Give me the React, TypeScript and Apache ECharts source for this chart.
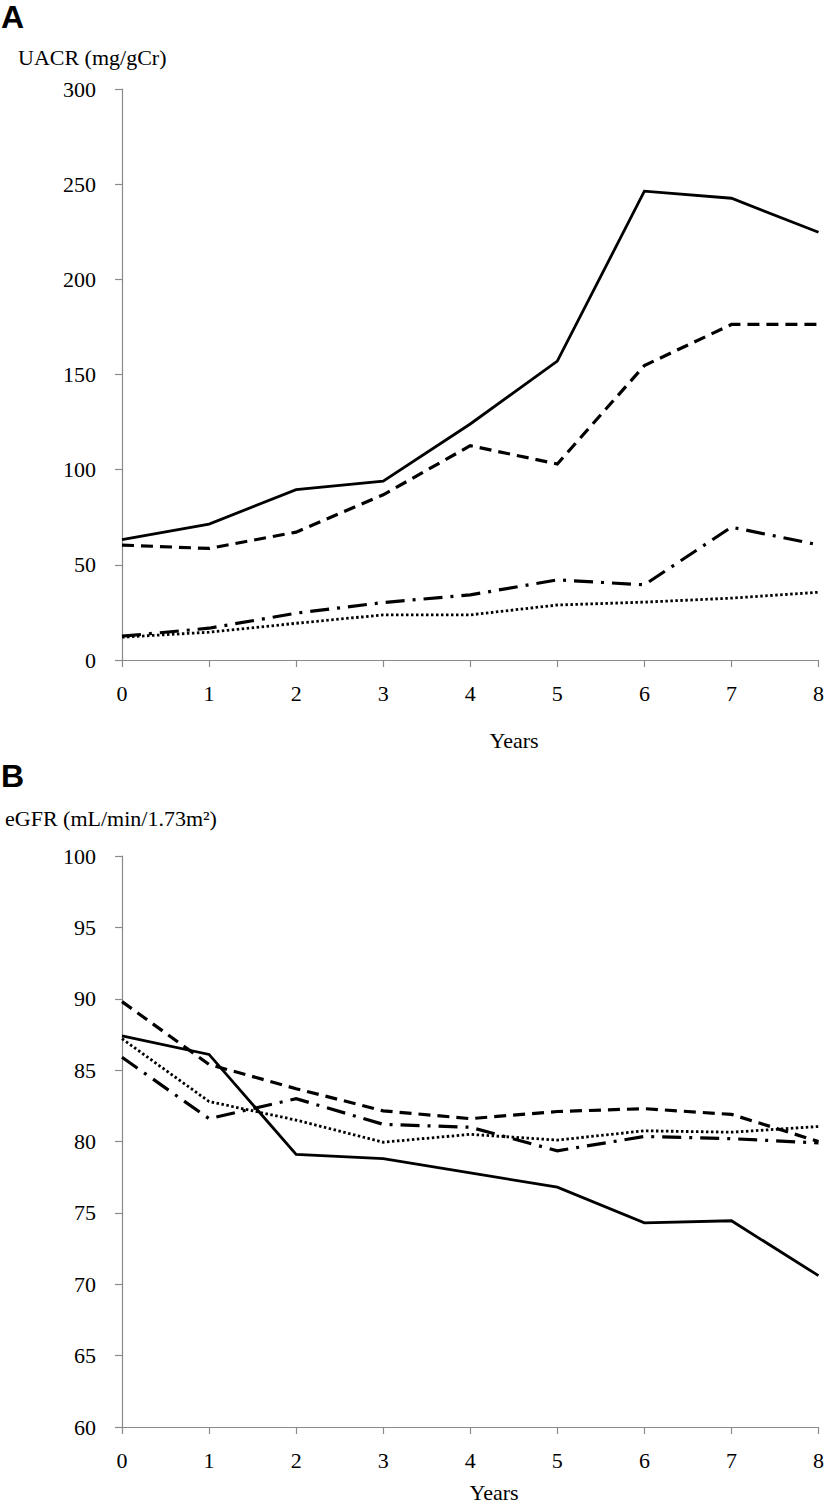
import React, { useEffect, useRef } from "react";
import * as echarts from "echarts";

const years = [0, 1, 2, 3, 4, 5, 6, 7, 8];

// Panel A: UACR (mg/gCr)
const uacrSolid = [63.2, 71.4, 89.5, 94, 124, 157, 246.3, 242.6, 224.7];
const uacrDashed = [60.4, 58.6, 67.2, 86.8, 112.6, 103, 154.7, 176.3, 176.3];
const uacrDashDot = [12.5, 16.7, 24.6, 30.2, 34.2, 42.1, 39.5, 69.8, 60.5];
const uacrDotted = [12, 14.6, 19.3, 23.7, 23.7, 28.9, 30.4, 32.5, 35.6];

// Panel B: eGFR (mL/min/1.73m²)
const egfrSolid = [87.4, 86.1, 79.1, 78.8, 77.8, 76.8, 74.3, 74.45, 70.6];
const egfrDashed = [89.8, 85.4, 83.7, 82.15, 81.6, 82.1, 82.3, 81.9, 80.0];
const egfrDashDot = [85.9, 81.6, 83.0, 81.2, 81.0, 79.35, 80.35, 80.2, 79.9];
const egfrDotted = [87.2, 82.8, 81.5, 79.95, 80.5, 80.1, 80.75, 80.65, 81.05];

const uacrTicks = { min: 0, max: 300, interval: 50 };
const egfrTicks = { min: 60, max: 100, interval: 5 };

const SERIF = "'Liberation Serif', 'Times New Roman', serif";
const SANS = "'Liberation Sans', Arial, sans-serif";
const AXIS_COLOR = "#8a8a8a";

const pairs = (vals: number[]) => years.map((x, i) => [x, vals[i]]);

const styles = [
  { width: 2.8, type: "solid" as any },
  { width: 3.2, type: [12, 7] as any },
  { width: 3.2, type: [19, 8, 3, 8] as any },
  { width: 2.8, type: [2.5, 2.5] as any },
];

export default function App() {
  const ref = useRef<HTMLDivElement>(null);
  useEffect(() => {
    if (!ref.current) return;
    const chart = echarts.init(ref.current, undefined, { renderer: "svg" });

    const xAxisBase = (gridIndex: number) => ({
      type: "value",
      gridIndex,
      min: 0,
      max: 8,
      interval: 1,
      axisLine: { show: true, lineStyle: { color: AXIS_COLOR, width: 1.2 } },
      axisTick: { show: true, length: 7, inside: false, lineStyle: { color: AXIS_COLOR, width: 1.2 } },
      axisLabel: { color: "#000", fontFamily: SERIF, fontSize: 22, margin: 22 },
      splitLine: { show: false },
    });
    const yAxisBase = (gridIndex: number, t: any) => ({
      type: "value",
      gridIndex,
      min: t.min,
      max: t.max,
      interval: t.interval,
      axisLine: { show: true, lineStyle: { color: AXIS_COLOR, width: 1.2 } },
      axisTick: { show: true, length: 7, inside: false, lineStyle: { color: AXIS_COLOR, width: 1.2 } },
      axisLabel: { color: "#000", fontFamily: SERIF, fontSize: 22, margin: 26 },
      splitLine: { show: false },
    });

    const mk = (vals: number[], idx: number, k: number) => ({
      type: "line",
      xAxisIndex: idx,
      yAxisIndex: idx,
      data: pairs(vals),
      symbol: "none",
      silent: true,
      lineStyle: { color: "#000", width: styles[k].width, type: styles[k].type, cap: "butt", join: "miter" },
    });

    const txt = (text: string, x: number, y: number, opts: any = {}) => ({
      type: "text",
      x,
      y,
      silent: true,
      style: {
        text,
        fill: "#000",
        font: opts.font || `22px ${SERIF}`,
        textAlign: opts.align || "left",
        textVerticalAlign: "middle",
      },
    });

    chart.setOption({
      animation: false,
      backgroundColor: "#fff",
      grid: [
        { left: 122, top: 89, width: 698, height: 571 },
        { left: 122, top: 856, width: 698, height: 571 },
      ],
      xAxis: [xAxisBase(0), xAxisBase(1)],
      yAxis: [yAxisBase(0, uacrTicks), yAxisBase(1, egfrTicks)],
      series: [
        mk(uacrSolid, 0, 0),
        mk(uacrDashed, 0, 1),
        mk(uacrDashDot, 0, 2),
        mk(uacrDotted, 0, 3),
        mk(egfrSolid, 1, 0),
        mk(egfrDashed, 1, 1),
        mk(egfrDashDot, 1, 2),
        mk(egfrDotted, 1, 3),
      ],
      graphic: [
        txt("A", 1, 17, { font: `bold 32px ${SANS}` }),
        txt("UACR (mg/gCr)", 18, 57),
        txt("Years", 514, 740, { align: "center" }),
        txt("B", 1, 776, { font: `bold 32px ${SANS}` }),
        txt("eGFR (mL/min/1.73m²)", 5, 818),
        txt("Years", 494, 1492, { align: "center" }),
      ],
    });
    return () => chart.dispose();
  }, []);

  return (
    <div
      ref={ref}
      style={{ position: "absolute", left: 0, top: 0, width: 827, height: 1504, background: "#fff" }}
    />
  );
}
